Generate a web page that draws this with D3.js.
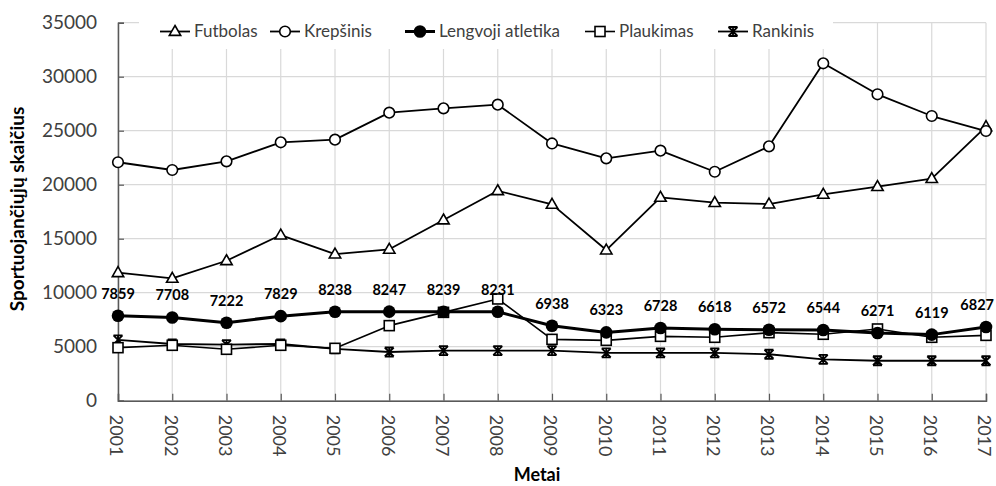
<!DOCTYPE html>
<html><head><meta charset="utf-8">
<script src="https://cdn.jsdelivr.net/npm/d3@7"></script>
<style>
html,body{margin:0;padding:0;background:#fff;}
svg{display:block;font-family:Lato, "Open Sans", sans-serif;}
</style></head>
<body>
<svg id="c" width="996" height="486"></svg>
<script>
const years = [2001,2002,2003,2004,2005,2006,2007,2008,2009,2010,2011,2012,2013,2014,2015,2016,2017];
const futbolas   = [11850,11330,12960,15340,13580,14020,16730,19440,18180,13950,18830,18340,18210,19110,19820,20560,25370];
const krepsinis  = [22080,21360,22165,23925,24170,26670,27070,27410,23820,22440,23150,21200,23550,31240,28370,26360,24970];
const lengvoji   = [7859,7708,7222,7829,8238,8247,8239,8231,6938,6323,6728,6618,6572,6544,6271,6119,6827];
const plaukimas  = [4910,5130,4760,5130,4850,6950,8180,9420,5680,5590,5960,5870,6300,6150,6640,5870,6050];
const rankinis   = [5640,5250,5200,5250,4800,4510,4630,4630,4630,4420,4420,4420,4300,3830,3700,3700,3700];
const yTicks = [0,5000,10000,15000,20000,25000,30000,35000];
const seriesNames = ["Futbolas","Krepšinis","Lengvoji atletika","Plaukimas","Rankinis"];
const xTitle = "Metai";
const yTitle = "Sportuojančiųjų skaičius";

const svg = d3.select("#c");
const L = 118, R = 986, T = 22.7, B = 400.7;
const x = d3.scalePoint().domain(years).range([L, R]);
const y = d3.scaleLinear().domain([0, 35000]).range([B, T]);

// gridlines
const grid = svg.append("g");
grid.selectAll("line.h").data(yTicks).join("line")
  .attr("x1", L).attr("x2", R).attr("y1", d => y(d)).attr("y2", d => y(d))
  .attr("stroke", "#d9d9d9").attr("stroke-width", 1.2);
grid.selectAll("line.v").data(years).join("line")
  .attr("x1", d => x(d)).attr("x2", d => x(d)).attr("y1", T).attr("y2", B)
  .attr("stroke", "#d9d9d9").attr("stroke-width", 1.2);

// axes
const yAxis = d3.axisLeft(y).tickValues(yTicks).tickSize(-6).tickPadding(21).tickFormat(d3.format("d"));
const gy = svg.append("g").attr("transform", `translate(${L},0)`).call(yAxis);
gy.select(".domain").attr("stroke", "#595959").attr("stroke-width", 1.5);
gy.selectAll(".tick line").attr("stroke", "#595959").attr("stroke-width", 1.2);
gy.selectAll(".tick text").attr("font-size", 19).attr("fill", "#404040").attr("font-family", "Lato");

const xAxis = d3.axisBottom(x).tickSize(-7).tickPadding(0);
const gx = svg.append("g").attr("transform", `translate(0,${B})`).call(xAxis);
gx.select(".domain").attr("stroke", "#595959").attr("stroke-width", 1.5);
gx.selectAll(".tick line").attr("stroke", "#595959").attr("stroke-width", 1.2);
gx.selectAll(".tick text").attr("font-size", 18).attr("fill", "#404040").attr("font-family", "Lato")
  .attr("transform", "translate(0,14) rotate(90)")
  .attr("text-anchor", "start").attr("dy", "0.45em").attr("x", 0).attr("y", 0);

// titles
svg.append("text").attr("x", 537).attr("y", 481).attr("text-anchor", "middle")
  .attr("font-size", 18).attr("font-weight", "bold").attr("fill", "#000").text(xTitle);
svg.append("text").attr("transform", "translate(24,209) rotate(-90)").attr("text-anchor", "middle")
  .attr("font-size", 19).attr("font-weight", "bold").attr("fill", "#000").text(yTitle);

// marker drawing
function marker(g, type, cx, cy) {
  if (type === "tri") {
    const s = 6;
    g.append("path").attr("d", `M${cx},${cy - s}L${cx + s * 0.95},${cy + s * 0.65}L${cx - s * 0.95},${cy + s * 0.65}Z`)
      .attr("fill", "#fff").attr("stroke", "#000").attr("stroke-width", 1.6);
  } else if (type === "circ") {
    g.append("circle").attr("cx", cx).attr("cy", cy).attr("r", 5.3)
      .attr("fill", "#fff").attr("stroke", "#000").attr("stroke-width", 1.6);
  } else if (type === "dot") {
    g.append("circle").attr("cx", cx).attr("cy", cy).attr("r", 6.3).attr("fill", "#000");
  } else if (type === "sq") {
    g.append("rect").attr("x", cx - 5).attr("y", cy - 5).attr("width", 10).attr("height", 10)
      .attr("fill", "#fff").attr("stroke", "#000").attr("stroke-width", 1.6);
  } else if (type === "star") {
    const s = 4.5;
    g.append("path").attr("d", `M${cx - s},${cy - s}L${cx + s},${cy + s}M${cx + s},${cy - s}L${cx - s},${cy + s}M${cx - s},${cy - s}L${cx + s},${cy - s}M${cx - s},${cy + s}L${cx + s},${cy + s}M${cx},${cy - s}L${cx},${cy + s}`)
      .attr("fill", "none").attr("stroke", "#000").attr("stroke-width", 1.8);
  }
}

const series = [
  {name: seriesNames[0], vals: futbolas, m: "tri", w: 1.8},
  {name: seriesNames[1], vals: krepsinis, m: "circ", w: 1.8},
  {name: seriesNames[2], vals: lengvoji, m: "dot", w: 3},
  {name: seriesNames[3], vals: plaukimas, m: "sq", w: 1.6},
  {name: seriesNames[4], vals: rankinis, m: "star", w: 1.8},
];
const line = d3.line().x((d, i) => x(years[i])).y(d => y(d));
const order = [4, 3, 0, 1, 2];
order.forEach(k => {
  const s = series[k];
  const g = svg.append("g");
  g.append("path").datum(s.vals).attr("d", line).attr("fill", "none").attr("stroke", "#000")
    .attr("stroke-width", s.w).attr("stroke-linejoin", "round");
  s.vals.forEach((v, i) => marker(g, s.m, x(years[i]), y(v)));
});

// data labels for Lengvoji atletika
svg.append("g").selectAll("text").data(lengvoji).join("text")
  .attr("x", (d, i) => x(years[i])).attr("y", d => y(d) - 17)
  .attr("text-anchor", "middle").attr("font-size", 14.5).attr("font-weight", "bold").attr("fill", "#000")
  .text(d => d)
  .each(function() {
    const w = this.getComputedTextLength();
    const cx = +this.getAttribute("x");
    if (cx + w / 2 > 994) this.setAttribute("x", 994 - w / 2);
  });

// legend
const lg = svg.append("g");
lg.append("rect").attr("x", 139).attr("y", 14).attr("width", 694).attr("height", 35).attr("fill", "#fff");
const legX = [160, 270, 405, 585, 718];
series.forEach((s, i) => {
  const g = lg.append("g");
  const lx = legX[i], ly = 31.5;
  g.append("line").attr("x1", lx).attr("x2", lx + 30).attr("y1", ly).attr("y2", ly)
    .attr("stroke", "#000").attr("stroke-width", s.w);
  marker(g, s.m, lx + 15, ly);
  g.append("text").attr("x", lx + 34).attr("y", ly).attr("dy", "0.35em")
    .attr("font-size", 17).attr("fill", "#404040").text(s.name);
});
</script>
</body></html>
